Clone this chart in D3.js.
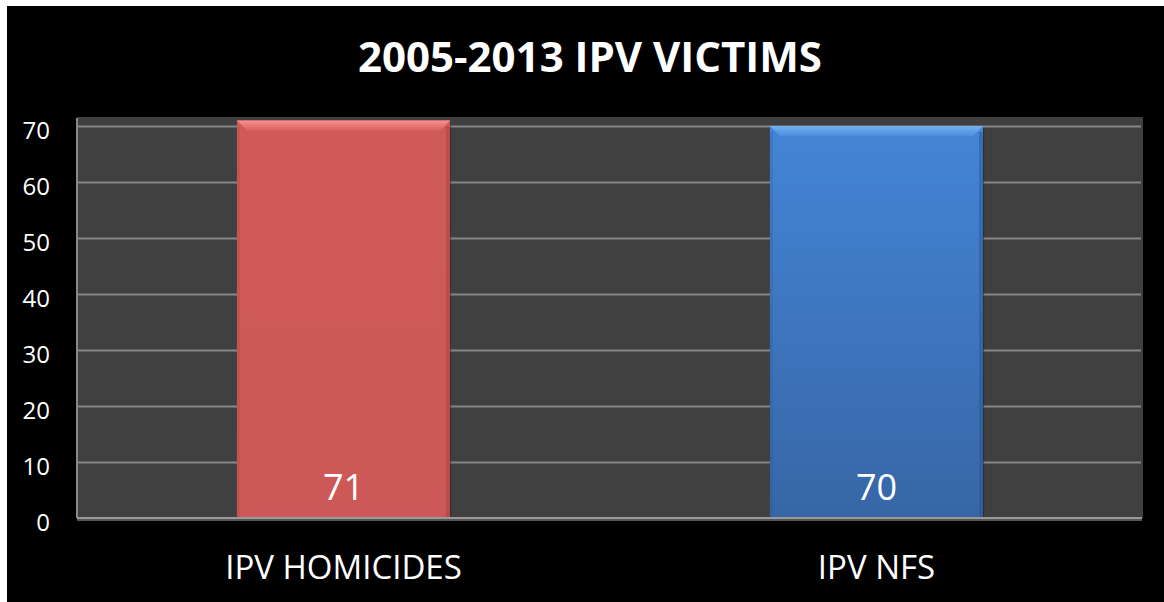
<!DOCTYPE html>
<html>
<head>
<meta charset="utf-8">
<script src="https://cdn.jsdelivr.net/npm/d3@7"></script>
<style>
  html, body { margin: 0; padding: 0; background: #fff; }
  svg { display: block; }
  text { font-family: "Open Sans", sans-serif; fill: #fff; }
</style>
</head>
<body>
<div id="chart"></div>
<script>
var categories = ["IPV HOMICIDES", "IPV NFS"];
var values = [71, 70];
var tickValues = [0, 10, 20, 30, 40, 50, 60, 70];
var chartTitle = "2005-2013 IPV VICTIMS";

var width = 1164, height = 602;
var plot = { left: 77, right: 1143, top: 117, bottom: 518 };

var svg = d3.select("#chart").append("svg")
  .attr("width", width)
  .attr("height", height);

// black card, image is cropped a bit at top/left
svg.append("rect")
  .attr("x", 7).attr("y", 6)
  .attr("width", width - 7).attr("height", height - 6)
  .attr("fill", "#000");

var defs = svg.append("defs");

var redGrad = defs.append("linearGradient").attr("id", "redGrad")
  .attr("x1", 0).attr("y1", 0).attr("x2", 0).attr("y2", 1);
redGrad.append("stop").attr("offset", "0%").attr("stop-color", "#d05a58");
redGrad.append("stop").attr("offset", "100%").attr("stop-color", "#cc5957");

var blueGrad = defs.append("linearGradient").attr("id", "blueGrad")
  .attr("x1", 0).attr("y1", 0).attr("x2", 0).attr("y2", 1);
blueGrad.append("stop").attr("offset", "0%").attr("stop-color", "#4485d7");
blueGrad.append("stop").attr("offset", "100%").attr("stop-color", "#3766a6");

// top bevel highlight fades downward
var redTop = defs.append("linearGradient").attr("id", "redTop")
  .attr("x1", 0).attr("y1", 0).attr("x2", 0).attr("y2", 1);
redTop.append("stop").attr("offset", "0%").attr("stop-color", "#fb918e");
redTop.append("stop").attr("offset", "100%").attr("stop-color", "#d8625f");
var blueTop = defs.append("linearGradient").attr("id", "blueTop")
  .attr("x1", 0).attr("y1", 0).attr("x2", 0).attr("y2", 1);
blueTop.append("stop").attr("offset", "0%").attr("stop-color", "#72b2f2");
blueTop.append("stop").attr("offset", "100%").attr("stop-color", "#4a8ddc");

var fills = ["url(#redGrad)", "url(#blueGrad)"];
var tops = ["url(#redTop)", "url(#blueTop)"];
var edges = ["#9c3f3d", "#2a5288"];

var x = d3.scaleBand()
  .domain(categories)
  .range([plot.left, plot.right])
  .paddingInner(0.6)
  .paddingOuter(0.3);

var y = d3.scaleLinear()
  .domain([0, 70])
  .range([plot.bottom, 126]);

// plot background
svg.append("rect")
  .attr("x", plot.left).attr("y", plot.top)
  .attr("width", plot.right - plot.left)
  .attr("height", plot.bottom - plot.top)
  .attr("fill", "#404040");

// gridlines
var yGrid = d3.axisLeft(y)
  .tickValues(tickValues.slice(1))
  .tickSize(-(plot.right - plot.left - 2))
  .tickFormat("");
svg.append("g")
  .attr("transform", "translate(" + plot.left + ",0)")
  .call(yGrid)
  .call(function(g) {
    g.select(".domain").remove();
    g.selectAll("line").attr("stroke", "#858585").attr("stroke-width", 2);
  });

// y tick labels
var yAxis = d3.axisLeft(y)
  .tickValues(tickValues)
  .tickSize(0)
  .tickPadding(27);
svg.append("g")
  .attr("transform", "translate(" + plot.left + ",0)")
  .call(yAxis)
  .call(function(g) {
    g.select(".domain").remove();
    g.selectAll("text")
      .attr("fill", "#fff")
      .attr("dy", "0.5em")
      .style("font-size", "24px")
      .style("font-family", "'Open Sans', sans-serif");
  });

// bars
var bars = svg.selectAll(".bar")
  .data(values)
  .enter().append("g")
  .attr("class", "bar");

bars.append("rect")
  .attr("x", function(d, i) { return x(categories[i]) + 1; })
  .attr("y", function(d) { return y(d) + 2; })
  .attr("width", x.bandwidth())
  .attr("height", function(d) { return y(0) - y(d) - 2; })
  .attr("fill", "#000")
  .attr("opacity", 0.35);

bars.append("rect")
  .attr("x", function(d, i) { return x(categories[i]); })
  .attr("y", function(d) { return y(d); })
  .attr("width", x.bandwidth())
  .attr("height", function(d) { return y(0) - y(d); })
  .attr("fill", function(d, i) { return fills[i]; });

// bevel: light top strip, darker sides
var bev = 10;
bars.append("path")
  .attr("d", function(d, i) {
    var x0 = x(categories[i]), x1 = x0 + x.bandwidth(), t = y(d);
    return "M" + x0 + "," + t + "L" + x1 + "," + t + "L" + (x1 - bev) + "," + (t + bev) +
      "L" + (x0 + bev) + "," + (t + bev) + "Z";
  })
  .attr("fill", function(d, i) { return tops[i]; });

bars.append("rect")
  .attr("x", function(d, i) { return x(categories[i]) + x.bandwidth() - 4; })
  .attr("y", function(d) { return y(d) + 6; })
  .attr("width", 4)
  .attr("height", function(d) { return y(0) - y(d) - 6; })
  .attr("fill", function(d, i) { return edges[i]; })
  .attr("opacity", 0.45);

bars.append("rect")
  .attr("x", function(d, i) { return x(categories[i]); })
  .attr("y", function(d) { return y(d) + 6; })
  .attr("width", 3)
  .attr("height", function(d) { return y(0) - y(d) - 6; })
  .attr("fill", function(d, i) { return edges[i]; })
  .attr("opacity", 0.2);

// value labels
bars.append("text")
  .attr("x", function(d, i) { return x(categories[i]) + x.bandwidth() / 2; })
  .attr("y", y(0) - 18)
  .attr("text-anchor", "middle")
  .style("font-size", "36px")
  .text(function(d) { return d; });

// axis lines
svg.append("line")
  .attr("x1", plot.left).attr("x2", plot.left)
  .attr("y1", plot.top + 1).attr("y2", plot.bottom)
  .attr("stroke", "#8a8a8a").attr("stroke-width", 2);

svg.append("line")
  .attr("x1", plot.left).attr("x2", plot.right - 1)
  .attr("y1", plot.bottom + 1.5).attr("y2", plot.bottom + 1.5)
  .attr("stroke", "#555").attr("stroke-width", 3);
svg.append("line")
  .attr("x1", plot.left).attr("x2", plot.right - 1)
  .attr("y1", plot.bottom).attr("y2", plot.bottom)
  .attr("stroke", "#9a9a9a").attr("stroke-width", 2);

// category labels
var xAxis = d3.axisBottom(x).tickSize(0).tickPadding(38);
svg.append("g")
  .attr("transform", "translate(0," + plot.bottom + ")")
  .call(xAxis)
  .call(function(g) {
    g.select(".domain").remove();
    g.selectAll("text")
      .attr("fill", "#fff")
      .style("font-size", "33px")
      .style("font-family", "'Open Sans', sans-serif");
  });

// title
svg.append("text")
  .attr("x", 590)
  .attr("y", 72)
  .attr("text-anchor", "middle")
  .style("font-size", "42px")
  .style("font-weight", "bold")
  .text(chartTitle);
</script>
</body>
</html>
